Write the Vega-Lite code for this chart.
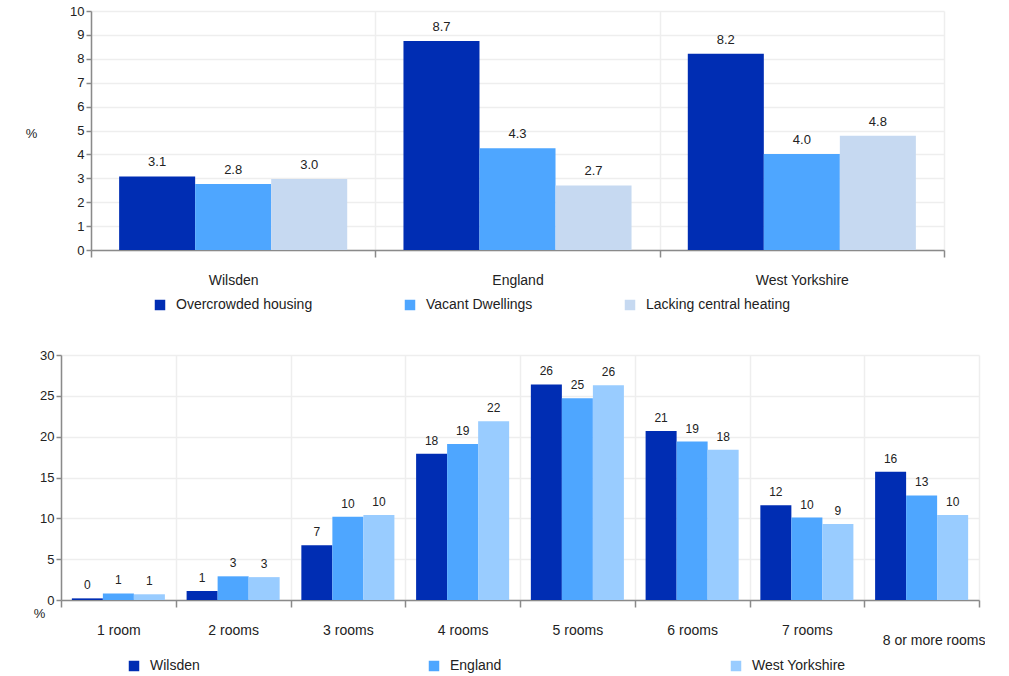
{
  "$schema": "https://vega.github.io/schema/vega-lite/v6.json",
  "padding": {"left": 25, "top": 5, "right": 0, "bottom": 0},
  "autosize": {"type": "pad"},
  "background": "white",
  "config": {
    "font": "Liberation Sans",
    "view": {"stroke": null},
    "axis": {
      "labelFont": "Liberation Sans", "labelFontSize": 13, "labelColor": "#222222",
      "domainColor": "#8a8a8a", "domainWidth": 1.5,
      "tickColor": "#8a8a8a", "tickWidth": 1.5,
      "gridColor": "#eeeeee", "gridWidth": 1.5,
      "titleFont": "Liberation Sans", "titleFontSize": 13, "titleFontWeight": "normal", "titleColor": "#222222"
    },
    "legend": {
      "labelFont": "Liberation Sans", "labelFontSize": 14, "labelColor": "#222222",
      "symbolType": "square", "symbolSize": 110, "symbolStrokeWidth": 0, "labelOffset": 9,
      "padding": 0
    }
  },
  "datasets": {
    "top": [
      {"area": "Wilsden", "measure": "Overcrowded housing", "value": 3.08},
      {"area": "Wilsden", "measure": "Vacant Dwellings", "value": 2.76},
      {"area": "Wilsden", "measure": "Lacking central heating", "value": 2.97},
      {"area": "England", "measure": "Overcrowded housing", "value": 8.74},
      {"area": "England", "measure": "Vacant Dwellings", "value": 4.26},
      {"area": "England", "measure": "Lacking central heating", "value": 2.7},
      {"area": "West Yorkshire", "measure": "Overcrowded housing", "value": 8.21},
      {"area": "West Yorkshire", "measure": "Vacant Dwellings", "value": 4.02},
      {"area": "West Yorkshire", "measure": "Lacking central heating", "value": 4.78}
    ],
    "bottom": [
      {"rooms": "1 room", "area": "Wilsden", "value": 0.2},
      {"rooms": "1 room", "area": "England", "value": 0.8},
      {"rooms": "1 room", "area": "West Yorkshire", "value": 0.7},
      {"rooms": "2 rooms", "area": "Wilsden", "value": 1.1},
      {"rooms": "2 rooms", "area": "England", "value": 2.9},
      {"rooms": "2 rooms", "area": "West Yorkshire", "value": 2.8},
      {"rooms": "3 rooms", "area": "Wilsden", "value": 6.7},
      {"rooms": "3 rooms", "area": "England", "value": 10.2},
      {"rooms": "3 rooms", "area": "West Yorkshire", "value": 10.4},
      {"rooms": "4 rooms", "area": "Wilsden", "value": 17.9},
      {"rooms": "4 rooms", "area": "England", "value": 19.1},
      {"rooms": "4 rooms", "area": "West Yorkshire", "value": 21.9},
      {"rooms": "5 rooms", "area": "Wilsden", "value": 26.4},
      {"rooms": "5 rooms", "area": "England", "value": 24.7},
      {"rooms": "5 rooms", "area": "West Yorkshire", "value": 26.3},
      {"rooms": "6 rooms", "area": "Wilsden", "value": 20.7},
      {"rooms": "6 rooms", "area": "England", "value": 19.4},
      {"rooms": "6 rooms", "area": "West Yorkshire", "value": 18.4},
      {"rooms": "7 rooms", "area": "Wilsden", "value": 11.6},
      {"rooms": "7 rooms", "area": "England", "value": 10.1},
      {"rooms": "7 rooms", "area": "West Yorkshire", "value": 9.3},
      {"rooms": "8 or more rooms", "area": "Wilsden", "value": 15.7},
      {"rooms": "8 or more rooms", "area": "England", "value": 12.8},
      {"rooms": "8 or more rooms", "area": "West Yorkshire", "value": 10.4}
    ]
  },
  "spacing": 37,
  "resolve": {
    "scale": {"color": "independent", "x": "independent", "y": "independent", "xOffset": "independent"},
    "legend": {"color": "independent"}
  },
  "vconcat": [
    {
      "width": 883,
      "height": 239,
      "data": {"name": "top"},
      "encoding": {
        "x": {
          "field": "area", "type": "nominal",
          "sort": ["Wilsden", "England", "West Yorkshire"],
          "scale": {"paddingInner": 0, "paddingOuter": 0, "range": [30, 883]},
          "axis": {"title": null, "labelAngle": 0, "tickBand": "extent", "grid": true, "tickSize": 7, "labelPadding": 16, "labelFontSize": 14}
        },
        "xOffset": {
          "field": "measure", "type": "nominal",
          "sort": ["Overcrowded housing", "Vacant Dwellings", "Lacking central heating"],
          "scale": {"paddingOuter": 0.37, "paddingInner": 0}
        },
        "y": {
          "field": "value", "type": "quantitative",
          "scale": {"domain": [0, 10], "nice": false},
          "axis": {
            "values": [0, 1, 2, 3, 4, 5, 6, 7, 8, 9, 10],
            "offset": -30,
            "title": "%", "titleAngle": 0, "titleX": -60, "titleY": 122,
            "titleAlign": "center", "titleBaseline": "middle",
            "tickSize": 5, "labelPadding": 2, "grid": true
          }
        }
      },
      "layer": [
        {
          "mark": {"type": "bar"},
          "encoding": {
            "color": {
              "field": "measure", "type": "nominal",
              "scale": {
                "domain": ["Overcrowded housing", "Vacant Dwellings", "Lacking central heating"],
                "range": ["#002db3", "#4ea6ff", "#c6d9f1"]
              },
              "legend": {
                "title": null, "orient": "none", "legendX": 92, "legendY": 287,
                "direction": "horizontal", "columns": 3, "gridAlign": "none", "columnPadding": 90
              }
            }
          }
        },
        {
          "mark": {"type": "text", "baseline": "bottom", "dy": -7, "fontSize": 13, "color": "#222222", "font": "Liberation Sans"},
          "encoding": {
            "text": {"field": "value", "type": "quantitative", "format": ".1f"}
          }
        }
      ]
    },
    {
      "width": 918,
      "height": 245,
      "data": {"name": "bottom"},
      "encoding": {
        "x": {
          "field": "rooms", "type": "nominal",
          "sort": ["1 room", "2 rooms", "3 rooms", "4 rooms", "5 rooms", "6 rooms", "7 rooms", "8 or more rooms"],
          "scale": {"paddingInner": 0, "paddingOuter": 0},
          "axis": {
            "title": null, "labelAngle": 0, "tickBand": "extent", "grid": true, "tickSize": 7,
            "labelFontSize": 14,
            "labelPadding": {"condition": {"test": "datum.value == '8 or more rooms'", "value": 26}, "value": 16},
            "labelOffset": {"condition": {"test": "datum.value == '8 or more rooms'", "value": 12}, "value": 0}
          }
        },
        "xOffset": {
          "field": "area", "type": "nominal",
          "sort": ["Wilsden", "England", "West Yorkshire"],
          "scale": {"paddingOuter": 0.35, "paddingInner": 0}
        },
        "y": {
          "field": "value", "type": "quantitative",
          "scale": {"domain": [0, 30], "nice": false},
          "axis": {
            "values": [0, 5, 10, 15, 20, 25, 30],
            "title": "%", "titleAngle": 0, "titleX": -22, "titleY": 258,
            "titleAlign": "center", "titleBaseline": "middle",
            "tickSize": 5, "labelPadding": 2, "grid": true
          }
        }
      },
      "layer": [
        {
          "mark": {"type": "bar"},
          "encoding": {
            "color": {
              "field": "area", "type": "nominal",
              "scale": {
                "domain": ["Wilsden", "England", "West Yorkshire"],
                "range": ["#002db3", "#4ea6ff", "#99ccff"]
              },
              "legend": {
                "title": null, "orient": "none", "legendX": 66, "legendY": 304,
                "direction": "horizontal", "columns": 3, "gridAlign": "none", "columnPadding": 227
              }
            }
          }
        },
        {
          "mark": {"type": "text", "baseline": "bottom", "dy": -6, "fontSize": 12, "color": "#222222", "font": "Liberation Sans"},
          "encoding": {
            "text": {"field": "value", "type": "quantitative", "format": ".0f"}
          }
        }
      ]
    }
  ]
}
